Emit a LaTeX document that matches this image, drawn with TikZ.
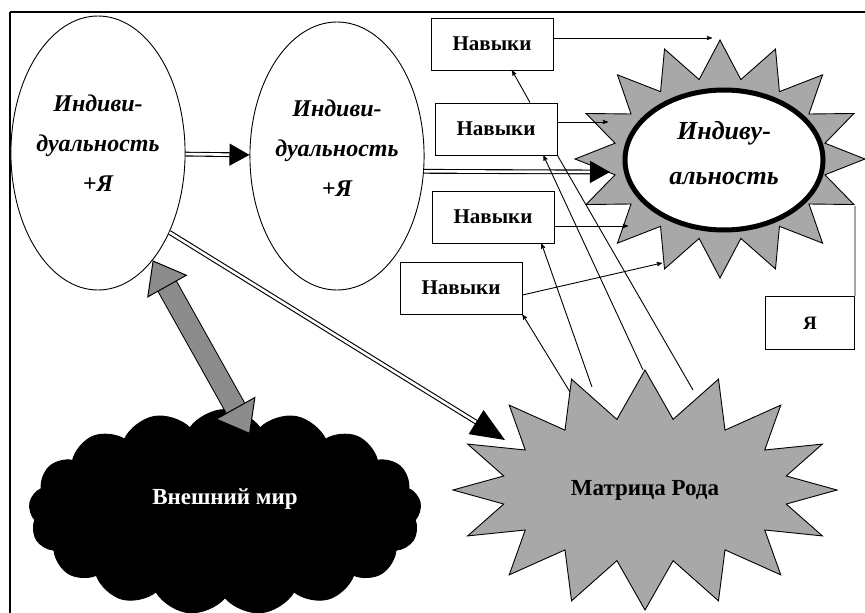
\documentclass[tikz,border=0pt]{standalone}
\usepackage{fontspec}
\setmainfont{Liberation Serif}
\usepackage{tikz}
\usetikzlibrary{arrows, arrows.meta, shapes.geometric, shapes.symbols}

\definecolor{burstgray}{gray}{0.66}
\definecolor{handgray}{gray}{0.55}

\begin{document}
\begin{tikzpicture}[x=1pt,y=-1pt,>=stealth',line width=0.9pt]
	\useasboundingbox (0,0) rectangle (865,613);
	\clip (0,0) rectangle (865,613);
	\draw[line width=2pt] (10,12) -- (865,12);
	\draw[line width=1.2pt] (10,12) -- (10,613);

	\tikzset{oval/.style={ellipse,draw,fill=white,align=center,inner sep=0pt,font=\fontsize{24}{40}\selectfont\bfseries\itshape}}
	\tikzset{navbox/.style={rectangle,draw,fill=white,minimum width=122pt,minimum height=52pt,font=\fontsize{21}{24}\selectfont\bfseries}}
	\tikzset{burst/.style={starburst,starburst points=16,random starburst=0,draw,fill=burstgray}}

	\node[burst,minimum width=290pt,minimum height=238pt,starburst point height=38pt] (burst1) at (720,159) {};
	\node[ellipse,draw,line width=5pt,fill=white,minimum width=198pt,minimum height=140pt,align=center,font=\fontsize{26}{45}\selectfont\bfseries\itshape] (core) at (724,160) {Индиву-\\альность\\[-30pt]\mbox{}};
	\node[burst,minimum width=384pt,minimum height=240pt,starburst point height=48pt,font=\fontsize{23}{26}\selectfont\bfseries] (rod) at (645,490) {Матрица Рода};
	\node[cloud,cloud puffs=17,cloud puff arc=110,cloud ignores aspect,draw,fill=black,text=white,align=center,minimum width=392pt,minimum height=205pt,font=\fontsize{23}{26}\selectfont\bfseries] (world) at (225,512) {Внешний мир\\[4pt]\mbox{}};

	\node[oval,minimum width=172pt,minimum height=274pt] (ind1) at (98,153) {Индиви-\\дуальность\\+Я\\[-20pt]\mbox{}};
	\node[oval,minimum width=174pt,minimum height=268pt] (ind2) at (337,156) {Индиви-\\дуальность\\+Я\\[-24pt]\mbox{}};

	\node[navbox] (nav1) at (492,44) {Навыки};
	\node[navbox] (nav2) at (496,129) {Навыки};
	\node[navbox] (nav3) at (493,217) {Навыки};
	\node[navbox] (nav4) at (461,288) {Навыки};
	\node[navbox,minimum width=89pt,minimum height=53pt,font=\fontsize{19}{22}\selectfont\bfseries] (ya) at (810,323) {Я};

	\coordinate (toburst) at (610,172);
	\coordinate (torod) at (505,440);
	\coordinate (s1) at (712,38);
	\coordinate (s2) at (608,122);
	\coordinate (s3) at (628,226);
	\coordinate (s4) at (662,263);
	\coordinate (m1) at (570,392);
	\coordinate (m2) at (592,387);
	\coordinate (m3) at (643,370);
	\coordinate (m4) at (693,390);
	\coordinate (yatop) at (855,206);

	\tikzset{dbl/.style={double,double distance=2.6pt,line width=1.1pt,-{Triangle[length=20pt,width=22pt]}}}
	\tikzset{handarrow/.style={double=handgray,double distance=20pt,line width=1pt,{Triangle[length=30pt,width=46pt,fill=handgray,line width=1pt]}-{Triangle[length=30pt,width=46pt,fill=handgray,line width=1pt]}}}

	\path (ind1) edge [dbl] (ind2);
	\draw[dbl] (ind2.-10) -- (toburst);
	\draw[dbl,-{Triangle[length=34pt,width=28pt]}] (ind1.-48) -- (torod);
	\draw[handarrow] (ind1.-63) -- ([xshift=25pt,yshift=-25pt]world.north);

	\draw[->] (nav1.east |- s1) -- (s1);
	\draw[->] (nav2.east |- s2) -- (s2);
	\draw[->] (nav3.east |- s3) -- (s3);
	\draw[->] ([yshift=-7pt]nav4.east) -- (s4);
	\draw[->] ([xshift=34pt]nav2.north) -- ([xshift=20pt]nav1.south);

	\draw[->] (m1) -- (nav4.south east);
	\draw[->] (m2) -- ([xshift=-13pt]nav3.south east);
	\draw[->] (m3) -- ([xshift=-14pt]nav2.south east);
	\draw (m4) -- (nav2.south east);
	\draw (ya.north east) -- (yatop);
\end{tikzpicture}
\end{document}
